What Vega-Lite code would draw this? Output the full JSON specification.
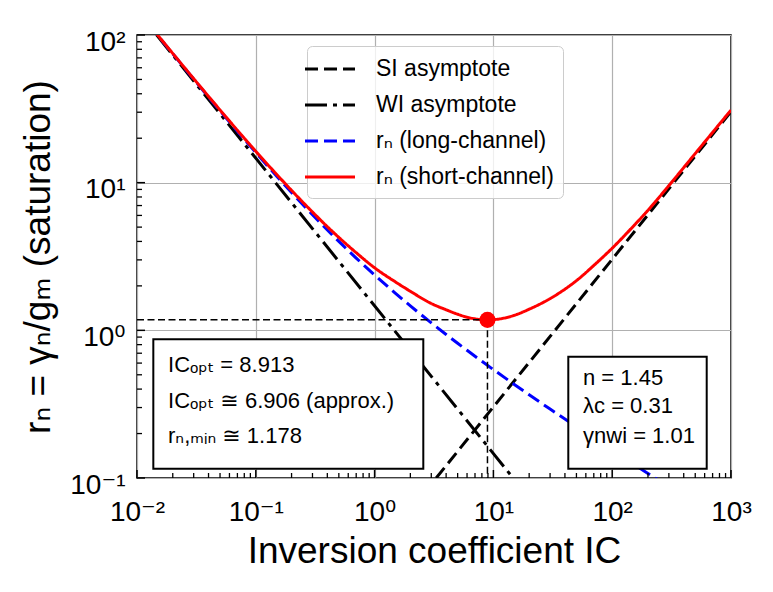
{
  "$schema": "https://vega.github.io/schema/vega-lite/v6.json",
  "width": 594,
  "height": 443,
  "autosize": {"type": "none"},
  "padding": {"left": 137, "top": 35, "right": 42, "bottom": 114},
  "background": "white",
  "config": {
    "view": {"stroke": "black", "strokeWidth": 1.5},
    "font": "Liberation Sans"
  },
  "datasets": {
    "curves": [
      {"ic": 3.3, "rn": 0.1, "series": "SI asymptote"},
      {"ic": 1000, "rn": 30.3, "series": "SI asymptote"},
      {"ic": 0.0146, "rn": 100.3, "series": "WI asymptote"},
      {"ic": 14.6, "rn": 0.1003, "series": "WI asymptote"},
      {"ic": 0.01, "rn": 147.9, "series": "rₙ (long-channel)"},
      {"ic": 0.015, "rn": 99.08, "series": "rₙ (long-channel)"},
      {"ic": 0.02, "rn": 74.66, "series": "rₙ (long-channel)"},
      {"ic": 0.03, "rn": 50.24, "series": "rₙ (long-channel)"},
      {"ic": 0.05, "rn": 30.69, "series": "rₙ (long-channel)"},
      {"ic": 0.07, "rn": 22.3, "series": "rₙ (long-channel)"},
      {"ic": 0.1, "rn": 15.99, "series": "rₙ (long-channel)"},
      {"ic": 0.15, "rn": 11.06, "series": "rₙ (long-channel)"},
      {"ic": 0.2, "rn": 8.573, "series": "rₙ (long-channel)"},
      {"ic": 0.3, "rn": 6.061, "series": "rₙ (long-channel)"},
      {"ic": 0.5, "rn": 4.001, "series": "rₙ (long-channel)"},
      {"ic": 0.7, "rn": 3.085, "series": "rₙ (long-channel)"},
      {"ic": 1, "rn": 2.37, "series": "rₙ (long-channel)"},
      {"ic": 1.5, "rn": 1.78, "series": "rₙ (long-channel)"},
      {"ic": 2, "rn": 1.4645, "series": "rₙ (long-channel)"},
      {"ic": 3, "rn": 1.124, "series": "rₙ (long-channel)"},
      {"ic": 4, "rn": 0.9379, "series": "rₙ (long-channel)"},
      {"ic": 5, "rn": 0.8176, "series": "rₙ (long-channel)"},
      {"ic": 6, "rn": 0.7323, "series": "rₙ (long-channel)"},
      {"ic": 7, "rn": 0.6679, "series": "rₙ (long-channel)"},
      {"ic": 8, "rn": 0.6173, "series": "rₙ (long-channel)"},
      {"ic": 10, "rn": 0.5421, "series": "rₙ (long-channel)"},
      {"ic": 15, "rn": 0.4301, "series": "rₙ (long-channel)"},
      {"ic": 20, "rn": 0.3661, "series": "rₙ (long-channel)"},
      {"ic": 30, "rn": 0.2929, "series": "rₙ (long-channel)"},
      {"ic": 40, "rn": 0.2506, "series": "rₙ (long-channel)"},
      {"ic": 50, "rn": 0.2223, "series": "rₙ (long-channel)"},
      {"ic": 70, "rn": 0.1858, "series": "rₙ (long-channel)"},
      {"ic": 100, "rn": 0.154, "series": "rₙ (long-channel)"},
      {"ic": 150, "rn": 0.1246, "series": "rₙ (long-channel)"},
      {"ic": 200, "rn": 0.1073, "series": "rₙ (long-channel)"},
      {"ic": 300, "rn": 0.087, "series": "rₙ (long-channel)"},
      {"ic": 0.01, "rn": 148.2, "series": "rₙ (short-channel)"},
      {"ic": 0.015, "rn": 99.4, "series": "rₙ (short-channel)"},
      {"ic": 0.02, "rn": 75.0, "series": "rₙ (short-channel)"},
      {"ic": 0.03, "rn": 50.6, "series": "rₙ (short-channel)"},
      {"ic": 0.05, "rn": 31.05, "series": "rₙ (short-channel)"},
      {"ic": 0.07, "rn": 22.63, "series": "rₙ (short-channel)"},
      {"ic": 0.1, "rn": 16.31, "series": "rₙ (short-channel)"},
      {"ic": 0.15, "rn": 11.36, "series": "rₙ (short-channel)"},
      {"ic": 0.2, "rn": 8.86, "series": "rₙ (short-channel)"},
      {"ic": 0.3, "rn": 6.325, "series": "rₙ (short-channel)"},
      {"ic": 0.5, "rn": 4.257, "series": "rₙ (short-channel)"},
      {"ic": 0.7, "rn": 3.355, "series": "rₙ (short-channel)"},
      {"ic": 1, "rn": 2.652, "series": "rₙ (short-channel)"},
      {"ic": 1.5, "rn": 2.126, "series": "rₙ (short-channel)"},
      {"ic": 2, "rn": 1.838, "series": "rₙ (short-channel)"},
      {"ic": 3, "rn": 1.519, "series": "rₙ (short-channel)"},
      {"ic": 4, "rn": 1.378, "series": "rₙ (short-channel)"},
      {"ic": 5, "rn": 1.285, "series": "rₙ (short-channel)"},
      {"ic": 6, "rn": 1.227, "series": "rₙ (short-channel)"},
      {"ic": 7, "rn": 1.196, "series": "rₙ (short-channel)"},
      {"ic": 8, "rn": 1.182, "series": "rₙ (short-channel)"},
      {"ic": 8.913, "rn": 1.178, "series": "rₙ (short-channel)"},
      {"ic": 10, "rn": 1.182, "series": "rₙ (short-channel)"},
      {"ic": 12, "rn": 1.205, "series": "rₙ (short-channel)"},
      {"ic": 15, "rn": 1.264, "series": "rₙ (short-channel)"},
      {"ic": 20, "rn": 1.39, "series": "rₙ (short-channel)"},
      {"ic": 30, "rn": 1.64, "series": "rₙ (short-channel)"},
      {"ic": 40, "rn": 1.9, "series": "rₙ (short-channel)"},
      {"ic": 50, "rn": 2.17, "series": "rₙ (short-channel)"},
      {"ic": 70, "rn": 2.75, "series": "rₙ (short-channel)"},
      {"ic": 100, "rn": 3.6, "series": "rₙ (short-channel)"},
      {"ic": 150, "rn": 5.05, "series": "rₙ (short-channel)"},
      {"ic": 200, "rn": 6.5, "series": "rₙ (short-channel)"},
      {"ic": 300, "rn": 9.55, "series": "rₙ (short-channel)"},
      {"ic": 500, "rn": 15.75, "series": "rₙ (short-channel)"},
      {"ic": 700, "rn": 21.9, "series": "rₙ (short-channel)"},
      {"ic": 1000, "rn": 31.0, "series": "rₙ (short-channel)"}
    ],
    "guides": [
      {"ic": 0.01, "ic2": 8.913, "rn": 1.178, "rn2": 1.178},
      {"ic": 8.913, "ic2": 8.913, "rn": 1.178, "rn2": 0.1}
    ],
    "opt": [{"ic": 8.913, "rn": 1.178}],
    "boxes": [
      {"ic": 0.01372, "ic2": 2.57, "rn": 0.1154, "rn2": 0.8694},
      {"ic": 42.7, "ic2": 624.5, "rn": 0.1154, "rn2": 0.6636}
    ],
    "notes": [
      {"ic": 0.01825, "rn": 0.5794, "label": "ICₒₚₜ =  8.913"},
      {"ic": 0.01825, "rn": 0.3306, "label": "ICₒₚₜ ≅  6.906 (approx.)"},
      {"ic": 0.01825, "rn": 0.1915, "label": "rₙ,ₘᵢₙ ≅  1.178"},
      {"ic": 56.8, "rn": 0.4732, "label": "n =  1.45"},
      {"ic": 56.8, "rn": 0.3072, "label": "λc =  0.31"},
      {"ic": 56.8, "rn": 0.1924, "label": "γnwi =  1.01"}
    ],
    "xticks": [
      {"ic": 0.01, "major": true}, {"ic": 0.02, "major": false}, {"ic": 0.03, "major": false}, {"ic": 0.04, "major": false}, {"ic": 0.05, "major": false}, {"ic": 0.06, "major": false}, {"ic": 0.07, "major": false}, {"ic": 0.08, "major": false}, {"ic": 0.09, "major": false},
      {"ic": 0.1, "major": true}, {"ic": 0.2, "major": false}, {"ic": 0.3, "major": false}, {"ic": 0.4, "major": false}, {"ic": 0.5, "major": false}, {"ic": 0.6, "major": false}, {"ic": 0.7, "major": false}, {"ic": 0.8, "major": false}, {"ic": 0.9, "major": false},
      {"ic": 1, "major": true}, {"ic": 2, "major": false}, {"ic": 3, "major": false}, {"ic": 4, "major": false}, {"ic": 5, "major": false}, {"ic": 6, "major": false}, {"ic": 7, "major": false}, {"ic": 8, "major": false}, {"ic": 9, "major": false},
      {"ic": 10, "major": true}, {"ic": 20, "major": false}, {"ic": 30, "major": false}, {"ic": 40, "major": false}, {"ic": 50, "major": false}, {"ic": 60, "major": false}, {"ic": 70, "major": false}, {"ic": 80, "major": false}, {"ic": 90, "major": false},
      {"ic": 100, "major": true}, {"ic": 200, "major": false}, {"ic": 300, "major": false}, {"ic": 400, "major": false}, {"ic": 500, "major": false}, {"ic": 600, "major": false}, {"ic": 700, "major": false}, {"ic": 800, "major": false}, {"ic": 900, "major": false},
      {"ic": 1000, "major": true}
    ],
    "yticks": [
      {"rn": 0.1, "major": true}, {"rn": 0.2, "major": false}, {"rn": 0.3, "major": false}, {"rn": 0.4, "major": false}, {"rn": 0.5, "major": false}, {"rn": 0.6, "major": false}, {"rn": 0.7, "major": false}, {"rn": 0.8, "major": false}, {"rn": 0.9, "major": false},
      {"rn": 1, "major": true}, {"rn": 2, "major": false}, {"rn": 3, "major": false}, {"rn": 4, "major": false}, {"rn": 5, "major": false}, {"rn": 6, "major": false}, {"rn": 7, "major": false}, {"rn": 8, "major": false}, {"rn": 9, "major": false},
      {"rn": 10, "major": true}, {"rn": 20, "major": false}, {"rn": 30, "major": false}, {"rn": 40, "major": false}, {"rn": 50, "major": false}, {"rn": 60, "major": false}, {"rn": 70, "major": false}, {"rn": 80, "major": false}, {"rn": 90, "major": false},
      {"rn": 100, "major": true}
    ]
  },
  "layer": [
    {
      "data": {"name": "curves"},
      "mark": {"type": "line", "clip": true, "strokeWidth": 3, "interpolate": "monotone"},
      "encoding": {
        "x": {
          "field": "ic", "type": "quantitative",
          "scale": {"type": "log", "domain": [0.01, 1000], "nice": false},
          "axis": {
            "values": [0.01, 0.1, 1, 10, 100, 1000],
            "labelExpr": "datum.value == 0.01 ? '10⁻²' : datum.value == 0.1 ? '10⁻¹' : datum.value == 1 ? '10⁰' : datum.value == 10 ? '10¹' : datum.value == 100 ? '10²' : '10³'",
            "ticks": false,
            "grid": true, "gridColor": "#b0b0b0", "gridWidth": 1.2,
            "domain": false,
            "labelFont": "Liberation Sans, DejaVu Sans", "labelFontSize": 28, "labelColor": "black",
            "labelPadding": 20, "labelFlush": false, "labelOverlap": false, "labelBound": false,
            "title": "Inversion coefficient IC", "titleFont": "Liberation Sans", "titleFontSize": 37,
            "titleFontWeight": "normal", "titleColor": "black", "titlePadding": 7
          }
        },
        "y": {
          "field": "rn", "type": "quantitative",
          "scale": {"type": "log", "domain": [0.1, 100], "nice": false},
          "axis": {
            "values": [0.1, 1, 10, 100],
            "labelExpr": "datum.value == 0.1 ? '10⁻¹' : datum.value == 1 ? '10⁰' : datum.value == 10 ? '10¹' : '10²'",
            "ticks": false,
            "grid": true, "gridColor": "#b0b0b0", "gridWidth": 1.2,
            "domain": false,
            "labelFont": "Liberation Sans, DejaVu Sans", "labelFontSize": 28, "labelColor": "black",
            "labelPadding": 12, "labelOffset": 7, "labelFlush": false, "labelOverlap": false, "labelBound": false,
            "title": "rₙ = γₙ/gₘ (saturation)", "titleFont": "Liberation Sans, DejaVu Sans", "titleFontSize": 37,
            "titleFontWeight": "normal", "titleColor": "black", "titlePadding": 12
          }
        },
        "color": {
          "field": "series", "type": "nominal",
          "scale": {"domain": ["SI asymptote", "WI asymptote", "rₙ (long-channel)", "rₙ (short-channel)"], "range": ["black", "black", "#0000ff", "#ff0000"]},
          "legend": {
            "title": null, "orient": "none", "legendX": 170, "legendY": 11,
            "fillColor": "rgba(255,255,255,0.8)", "strokeColor": "#cccccc", "cornerRadius": 5,
            "padding": 9, "symbolType": "M-2,0H2", "symbolSize": 625, "symbolStrokeWidth": 3,
            "labelFont": "Liberation Sans, DejaVu Sans", "labelFontSize": 23, "labelColor": "black",
            "labelOffset": 32, "rowPadding": 10, "labelLimit": 400
          }
        },
        "strokeDash": {
          "field": "series", "type": "nominal",
          "scale": {"domain": ["SI asymptote", "WI asymptote", "rₙ (long-channel)", "rₙ (short-channel)"], "range": [[13, 6], [22, 6, 4, 6], [13, 6], [1, 0]]},
          "legend": {
            "title": null, "orient": "none", "legendX": 170, "legendY": 11,
            "fillColor": "rgba(255,255,255,0.8)", "strokeColor": "#cccccc", "cornerRadius": 5,
            "padding": 9, "symbolType": "M-2,0H2", "symbolSize": 625, "symbolStrokeWidth": 3,
            "labelFont": "Liberation Sans, DejaVu Sans", "labelFontSize": 23, "labelColor": "black",
            "labelOffset": 32, "rowPadding": 10, "labelLimit": 400
          }
        }
      }
    },
    {
      "data": {"name": "guides"},
      "mark": {"type": "rule", "color": "black", "strokeWidth": 1.5, "strokeDash": [7, 3.5]},
      "encoding": {
        "x": {"field": "ic", "type": "quantitative"},
        "x2": {"field": "ic2"},
        "y": {"field": "rn", "type": "quantitative"},
        "y2": {"field": "rn2"}
      }
    },
    {
      "data": {"name": "opt"},
      "mark": {"type": "circle", "color": "#ff0000", "opacity": 1, "size": 260},
      "encoding": {
        "x": {"field": "ic", "type": "quantitative"},
        "y": {"field": "rn", "type": "quantitative"}
      }
    },
    {
      "data": {"name": "boxes"},
      "mark": {"type": "rect", "fill": "white", "stroke": "black", "strokeWidth": 2},
      "encoding": {
        "x": {"field": "ic", "type": "quantitative"},
        "x2": {"field": "ic2"},
        "y": {"field": "rn", "type": "quantitative"},
        "y2": {"field": "rn2"}
      }
    },
    {
      "data": {"name": "notes"},
      "mark": {"type": "text", "align": "left", "baseline": "middle", "fontSize": 22, "font": "Liberation Sans, DejaVu Sans", "color": "black"},
      "encoding": {
        "x": {"field": "ic", "type": "quantitative"},
        "y": {"field": "rn", "type": "quantitative"},
        "text": {"field": "label"}
      }
    },
    {
      "data": {"name": "xticks"},
      "transform": [{"filter": "datum.major"}],
      "mark": {"type": "tick", "orient": "vertical", "color": "black", "thickness": 1.5, "size": 8, "yOffset": -4, "opacity": 1},
      "encoding": {
        "x": {"field": "ic", "type": "quantitative"},
        "y": {"datum": 0.1, "type": "quantitative"}
      }
    },
    {
      "data": {"name": "xticks"},
      "transform": [{"filter": "!datum.major"}],
      "mark": {"type": "tick", "orient": "vertical", "color": "black", "thickness": 1.3, "size": 5, "yOffset": -2.5, "opacity": 1},
      "encoding": {
        "x": {"field": "ic", "type": "quantitative"},
        "y": {"datum": 0.1, "type": "quantitative"}
      }
    },
    {
      "data": {"name": "yticks"},
      "transform": [{"filter": "datum.major"}],
      "mark": {"type": "tick", "orient": "horizontal", "color": "black", "thickness": 1.5, "size": 8, "xOffset": 4, "opacity": 1},
      "encoding": {
        "y": {"field": "rn", "type": "quantitative"},
        "x": {"datum": 0.01, "type": "quantitative"}
      }
    },
    {
      "data": {"name": "yticks"},
      "transform": [{"filter": "!datum.major"}],
      "mark": {"type": "tick", "orient": "horizontal", "color": "black", "thickness": 1.3, "size": 5, "xOffset": 2.5, "opacity": 1},
      "encoding": {
        "y": {"field": "rn", "type": "quantitative"},
        "x": {"datum": 0.01, "type": "quantitative"}
      }
    }
  ]
}
